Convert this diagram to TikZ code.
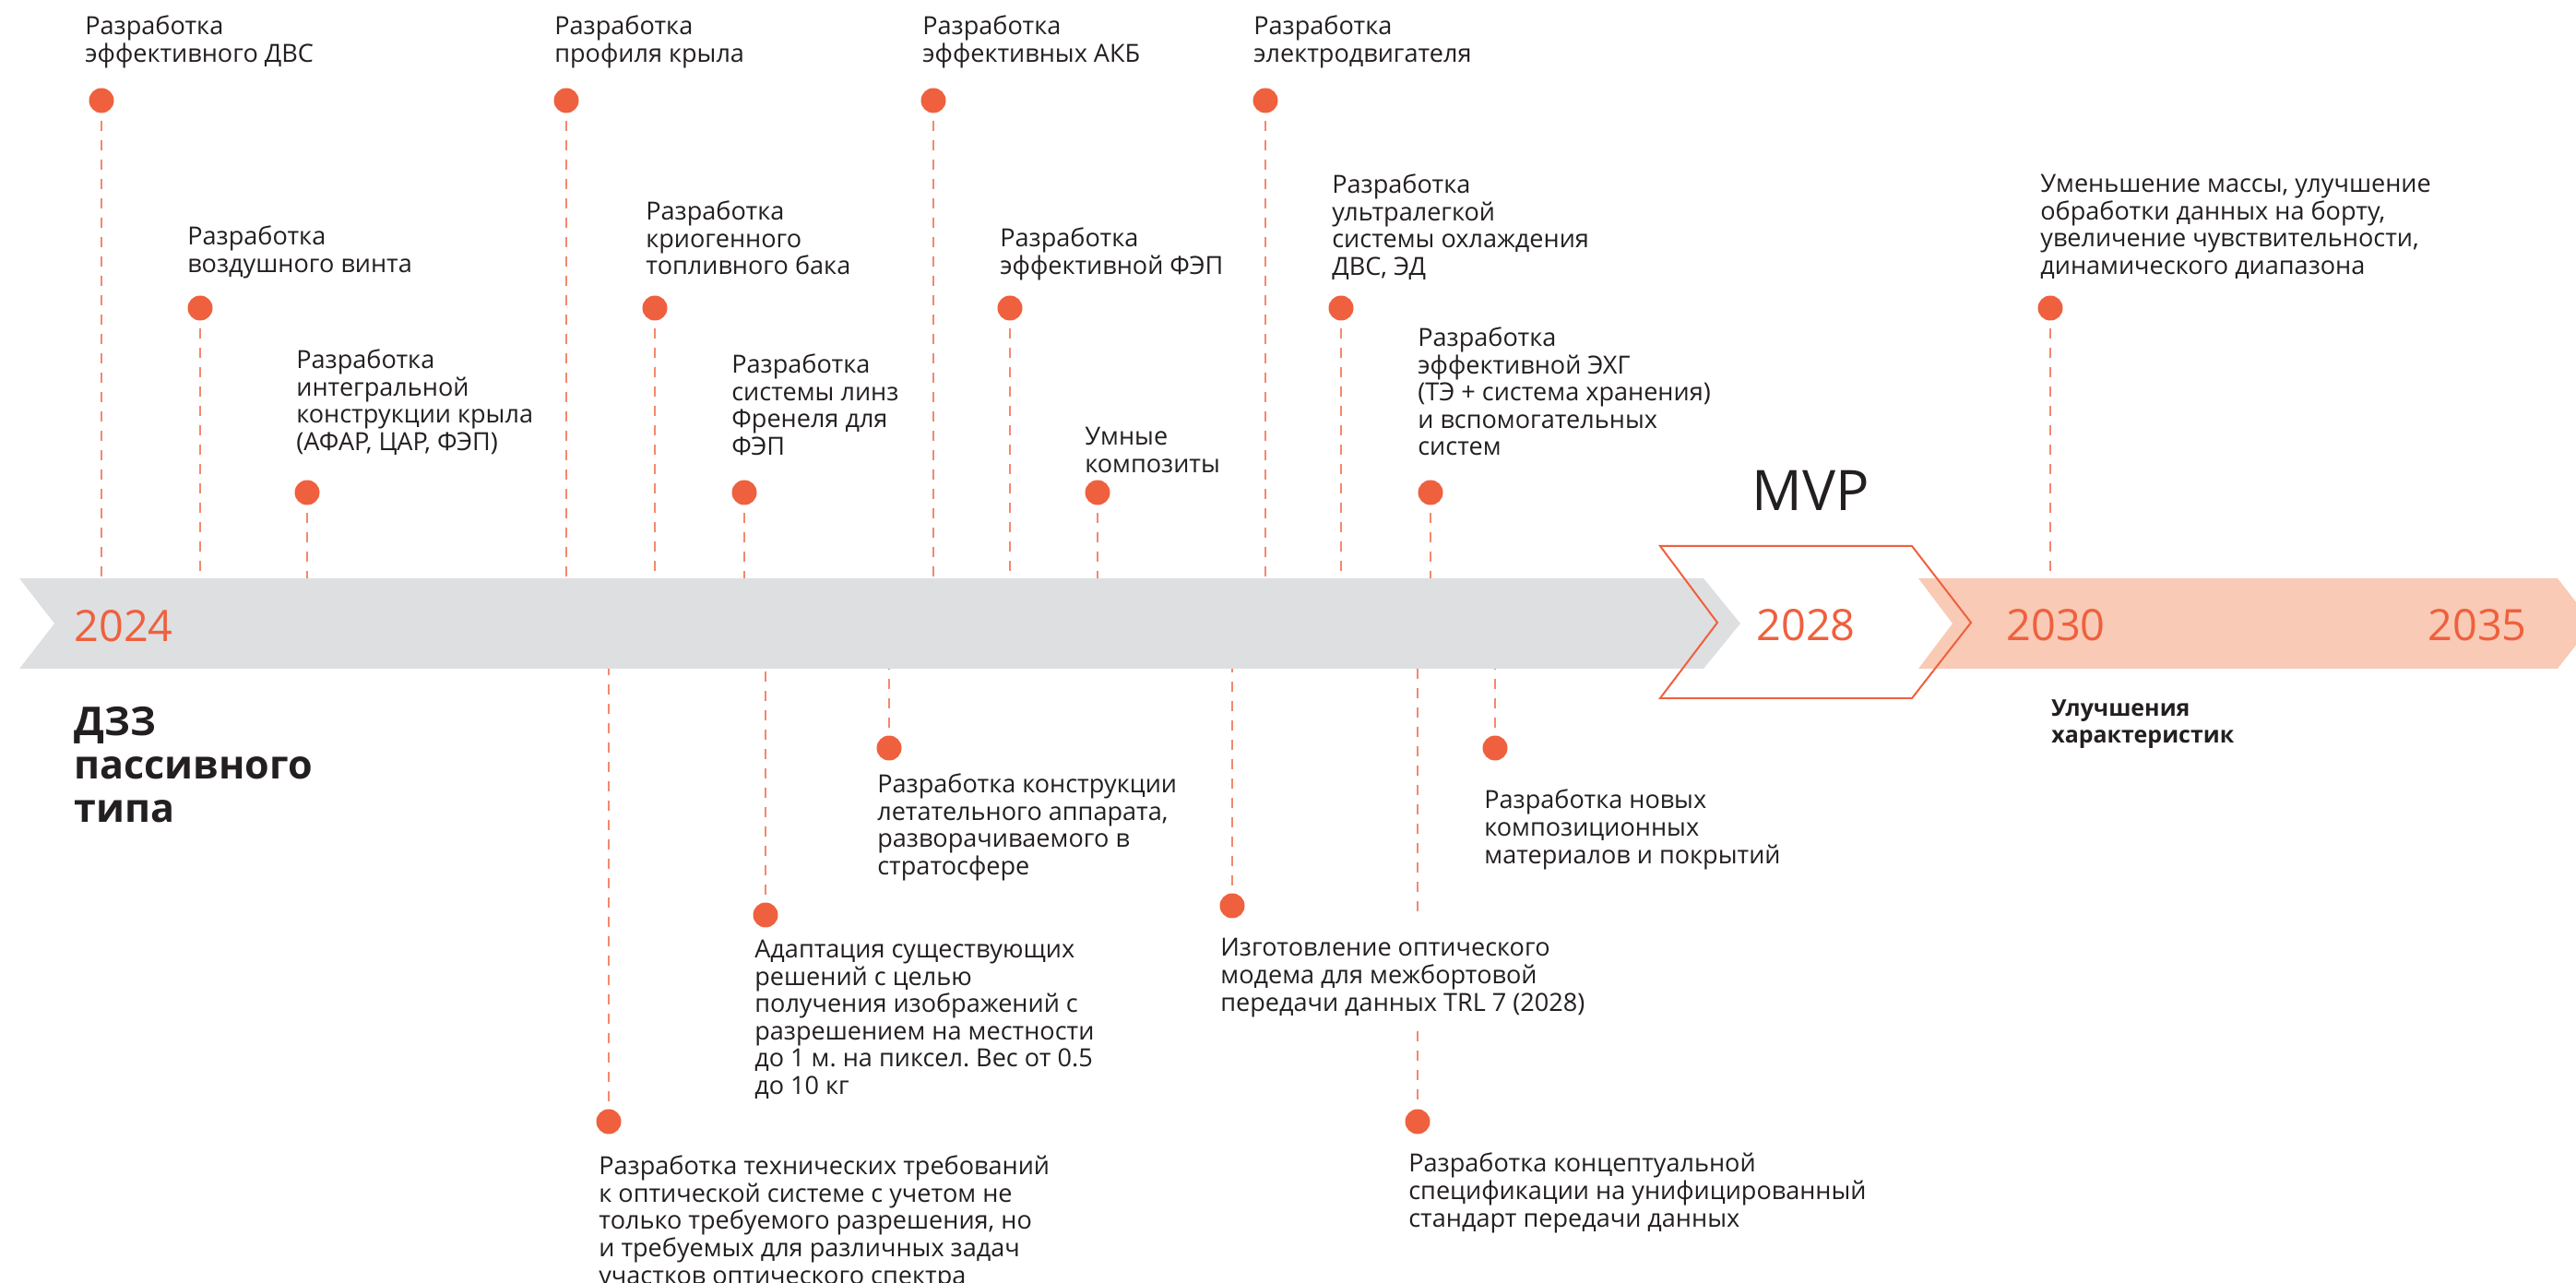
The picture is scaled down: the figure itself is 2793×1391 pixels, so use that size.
\documentclass[tikz,border=0pt]{standalone}
\usepackage{fontspec}
\setmainfont{Open Sans}
\usepackage{xcolor}
\usetikzlibrary{arrows.meta,positioning,calc}
\definecolor{accent}{RGB}{239,96,62}
\definecolor{barGrey}{RGB}{222,223,225}
\definecolor{barPeach}{RGB}{249,202,181}
\definecolor{ink}{RGB}{35,31,32}
\frenchspacing

\begin{document}
\begin{tikzpicture}[x=0.02cm, y=-0.02cm,
  ms/.style={circle, fill=accent, inner sep=0pt, minimum size=0.54cm},
  stem/.style={accent!75, line width=0.04cm, dash pattern=on 0.22cm off 0.2cm},
  lb/.style={anchor=base west, inner sep=0pt, align=left, text=ink,
    font=\fontsize{15.4}{16.8}\selectfont},
  yr/.style={anchor=base west, inner sep=0pt, text=accent,
    font=\fontsize{26.7}{28}\selectfont}]
  \useasboundingbox (0,0) rectangle (2793,1391);
  % timeline bars: grey up to MVP, peach after it
  \coordinate (bartop) at (0,627);
  \coordinate (barbot) at (0,725);
  \fill[barGrey] (21,627) -- (1847,627) -- (1887,676) -- (1847,725) -- (21,725) -- (59,676) -- cycle;
  \fill[barPeach] (2080,627) -- (2773,627) -- (2811,676) -- (2773,725) -- (2080,725) -- (2117,676) -- cycle;
  \draw[accent, line width=0.04cm] (1800,592) -- (2073,592) -- (2137,675) -- (2073,757) -- (1800,757) -- (1862,675) -- cycle;
  \node[yr] (y24) at (80,696) {2024};
  \node[yr] (y28) at (1904,695) {2028};
  \node[yr] (y30) at (2175,695) {2030};
  \node[yr] (y35) at (2632,695) {2035};
  % base anchor of a multi-line node sits on its last line
  \node[anchor=base west, inner sep=0pt, align=left, text=ink, font=\fontsize{24.5}{26.7}\selectfont\bfseries]
    (dzz) at (80,891) {ДЗЗ\\пассивного\\типа};
  \node[anchor=base west, inner sep=0pt, text=ink, font=\fontsize{34.5}{36}\selectfont] (mvp) at (1899,554) {MVP};
  \node[lb, font=\fontsize{14.2}{16.8}\selectfont\bfseries] (upg) at (2224,806) {Улучшения\\характеристик};
  % milestones above the bar
  \node[ms] (ms1) at (110,109) {};
  \node[ms] (ms2) at (217,334) {};
  \node[ms] (ms3) at (333,534) {};
  \node[ms] (ms4) at (614,109) {};
  \node[ms] (ms5) at (710,334) {};
  \node[ms] (ms6) at (807,534) {};
  \node[ms] (ms7) at (1012,109) {};
  \node[ms] (ms8) at (1095,334) {};
  \node[ms] (ms9) at (1190,534) {};
  \node[ms] (ms10) at (1372,109) {};
  \node[ms] (ms11) at (1454,334) {};
  \node[ms] (ms12) at (1551,534) {};
  \node[ms] (ms13) at (2223,334) {};
  \node[lb] (lb1) at (92,67.5) {Разработка\\эффективного ДВС};
  \node[lb] (lb2) at (203,295.5) {Разработка\\воздушного винта};
  \node[lb] (lb3) at (321,488.5) {Разработка\\интегральной\\конструкции крыла\\(АФАР, ЦАР, ФЭП)};
  \node[lb] (lb4) at (601,67.5) {Разработка\\профиля крыла};
  \node[lb] (lb5) at (700,298) {Разработка\\криогенного\\топливного бака};
  \node[lb] (lb6) at (793,493.5) {Разработка\\системы линз\\Френеля для\\ФЭП};
  \node[lb] (lb7) at (1000,67.5) {Разработка\\эффективных АКБ};
  \node[lb] (lb8) at (1084,297.5) {Разработка\\эффективной ФЭП};
  \node[lb] (lb9) at (1176,512.5) {Умные\\композиты};
  \node[lb] (lb10) at (1359,67.5) {Разработка\\электродвигателя};
  \node[lb] (lb11) at (1444,298.5) {Разработка\\ультралегкой\\системы охлаждения\\ДВС, ЭД};
  \node[lb] (lb12) at (1537,494) {Разработка\\эффективной ЭХГ\\(ТЭ + система хранения)\\и вспомогательных\\систем};
  \node[lb] (lb13) at (2212,297.5) {Уменьшение массы, улучшение\\обработки данных на борту,\\увеличение чувствительности,\\динамического диапазона};
  \foreach \i in {1,...,13}
    \draw[stem, shorten <=0.16cm] (ms\i.south) -- (ms\i |- bartop);
  % milestones below the bar
  \node[ms] (ms14) at (660,1216) {};
  \node[ms] (ms15) at (830,992) {};
  \node[ms] (ms16) at (964,811) {};
  \node[ms] (ms17) at (1336,982) {};
  \node[ms] (ms18) at (1537,1216) {};
  \node[ms] (ms19) at (1621,811) {};
  \node[lb] (lb14) at (649,1392) {Разработка технических требований\\к оптической системе с учетом не\\только требуемого разрешения, но\\и требуемых для различных задач\\участков оптического спектра};
  \node[lb] (lb15) at (818,1186.5) {Адаптация существующих\\решений с целью\\получения изображений с\\разрешением на местности\\до 1 м. на пиксел. Вес от 0.5\\до 10 кг};
  \node[lb] (lb16) at (951,948.5) {Разработка конструкции\\летательного аппарата,\\разворачиваемого в\\стратосфере};
  \node[lb] (lb17) at (1323,1096) {Изготовление оптического\\модема для межбортовой\\передачи данных TRL 7 (2028)};
  \node[lb] (lb18) at (1527,1330) {Разработка концептуальной\\спецификации на унифицированный\\стандарт передачи данных};
  \node[lb] (lb19) at (1609,936) {Разработка новых\\композиционных\\материалов и покрытий};
  \foreach \i in {14,15,16,17,19}
    \draw[stem, shorten <=0.16cm] (ms\i.north) -- (ms\i |- barbot);
  % stem of ms18 breaks round the text of lb17
  \coordinate (gap18a) at (1537,997);
  \coordinate (gap18b) at (1537,1118);
  \draw[stem] (ms18 |- barbot) -- (gap18a);
  \draw[stem, shorten >=0.16cm] (gap18b) -- (ms18.north);
\end{tikzpicture}
\end{document}
